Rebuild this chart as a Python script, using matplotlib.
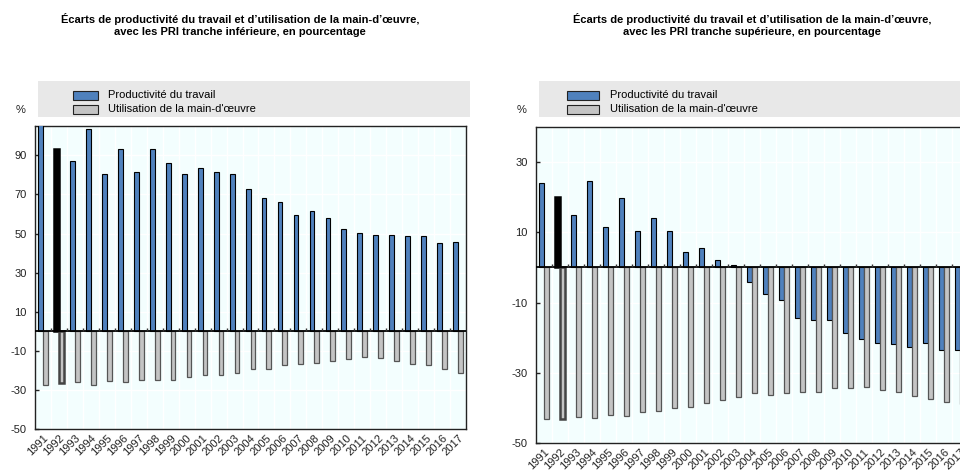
import numpy as np
import matplotlib
matplotlib.use("Agg")
import matplotlib.pyplot as plt
from matplotlib.patches import Rectangle

plt.rcParams['font.family'] = ['Liberation Sans Narrow', 'Liberation Sans', 'DejaVu Sans']
plt.rcParams['axes.unicode_minus'] = False

years = [str(y) for y in range(1991, 2018)]

# PRI tranche inférieure
prod_low = [108, 93.2, 87.3, 103.6, 80.2, 93.2, 81.4, 93.2, 86.0, 80.2, 83.4, 81.4, 80.2,
            72.8, 68.2, 66.3, 59.6, 61.7, 57.8, 52.5, 50.4, 49.2, 49.2, 48.5, 48.5, 45.3, 45.8]
util_low = [-27.4, -26.7, -25.9, -27.4, -25.4, -25.9, -24.7, -24.7, -24.7, -23.4, -22.2, -22.2, -21.3,
            -19.5, -19.5, -17.5, -16.8, -16.1, -15.0, -14.3, -13.1, -13.6, -15.0, -16.8, -17.5, -19.5, -21.3]

# PRI tranche supérieure
prod_high = [24.0, 20.1, 14.8, 24.6, 11.4, 19.7, 10.3, 14.1, 10.3, 4.3, 5.5, 2.0, 0.8,
             -4.1, -7.5, -9.4, -14.3, -15.1, -15.1, -18.8, -20.4, -21.4, -21.9, -22.6, -21.4, -23.4, -23.4]
util_high = [-43.3, -43.3, -42.6, -43.0, -41.9, -42.3, -41.2, -40.8, -40.0, -39.7, -38.5, -37.8, -37.0,
             -35.9, -36.3, -35.9, -35.4, -35.4, -34.4, -34.4, -34.0, -34.8, -35.4, -36.6, -37.4, -38.2, -39.0]

titles = ["Écarts de productivité du travail et d\u2019utilisation de la main-d\u2019œuvre,\navec les PRI tranche inférieure, en pourcentage",
          "Écarts de productivité du travail et d\u2019utilisation de la main-d\u2019œuvre,\navec les PRI tranche supérieure, en pourcentage"]
labels = ["Productivité du travail", "Utilisation de la main-d'œuvre"]
highlight = "1992"

BLUE = "#4f81bd"
GREY = "#c4c4c4"
BG = "#f3fefe"
W, H = 960, 470

fig = plt.figure(figsize=(9.6, 4.7), dpi=100)


def px(x0, y0, x1, y1):
    return [x0 / W, 1 - y1 / H, (x1 - x0) / W, (y1 - y0) / H]


def panel(rect, prod, util, ylim, yticks, title, title_x, band, patch_x, text_x, pct_x):
    ax = fig.add_axes(px(*rect))
    ax.set_facecolor(BG)
    x = np.arange(len(years))
    bw = 0.3
    hi = years.index(highlight)
    pc = [BLUE] * len(years)
    pc[hi] = "black"
    plw = [0.8] * len(years)
    plw[hi] = 1.8
    ax.bar(x - bw / 2, prod, bw, color=pc, edgecolor="black", linewidth=plw, zorder=3)
    ue = ["#555555"] * len(years)
    ue[hi] = "#444444"
    lw = [0.9] * len(years)
    lw[hi] = 1.8
    ax.bar(x + bw / 2, util, bw, color=GREY, edgecolor=ue, linewidth=lw, zorder=3)
    ax.set_xlim(-0.5, len(years) - 0.5)
    ax.set_ylim(*ylim)
    ax.set_yticks(yticks)
    for yt in yticks:
        ax.axhline(yt, color="white", lw=1, zorder=1)
    for b in np.arange(0.5, len(years) - 0.5):
        ax.axvline(b, color="white", lw=1, zorder=1)
    ax.axhline(0, color="black", lw=1.3, zorder=4)
    tick_h = (ylim[1] - ylim[0]) * 0.012
    ax.vlines(np.arange(0.5, len(years) - 0.5), 0, tick_h, color="#333333", lw=1, zorder=4)
    ax.set_xticks(x)
    ax.set_xticklabels(years, rotation=45, ha="right", va="top", rotation_mode="anchor",
                       fontsize=8, color="#222222")
    ax.tick_params(axis="x", length=0, pad=3)
    ax.tick_params(axis="y", direction="in", length=3, width=1, color="#222222",
                   pad=6, labelsize=8, labelcolor="#222222")
    for s in ax.spines.values():
        s.set_color("#222222")
        s.set_linewidth(1)
    # title
    fig.text(title_x / W, 1 - 25 / H, title, ha="center", va="center", fontsize=8,
             fontweight="bold", linespacing=1.35)
    # legend band
    bx0, bx1 = band
    fig.patches.append(Rectangle((bx0 / W, 1 - 117 / H), (bx1 - bx0) / W, 36 / H,
                                 transform=fig.transFigure, facecolor="#e8e8e8",
                                 edgecolor="none", zorder=0))
    for i, (lab, col) in enumerate(zip(labels, [BLUE, GREY])):
        yc = 95.5 + 14 * i
        fig.patches.append(Rectangle((patch_x[0] / W, 1 - (yc + 4) / H),
                                     (patch_x[1] - patch_x[0]) / W, 8 / H,
                                     transform=fig.transFigure, facecolor=col,
                                     edgecolor="#222222", lw=0.8, zorder=2))
        fig.text(text_x / W, 1 - yc / H, lab, ha="left", va="center", fontsize=8)
    fig.text(pct_x / W, 1 - 110 / H, "%", ha="center", va="center", fontsize=8, color="#222222")
    return ax


panel((35, 126, 466, 429), prod_low, util_low, (-50, 105), [-50, -30, -10, 10, 30, 50, 70, 90],
      titles[0], 240, (38, 470), (73, 98), 108, 21)
axr = panel((536, 127, 968, 443), prod_high, util_high, (-50, 40), [-50, -30, -10, 10, 30],
            titles[1], 752, (539, 960), (567, 599), 610, 522)
axr.spines["right"].set_visible(False)

fig.savefig("out.png", dpi=100)
